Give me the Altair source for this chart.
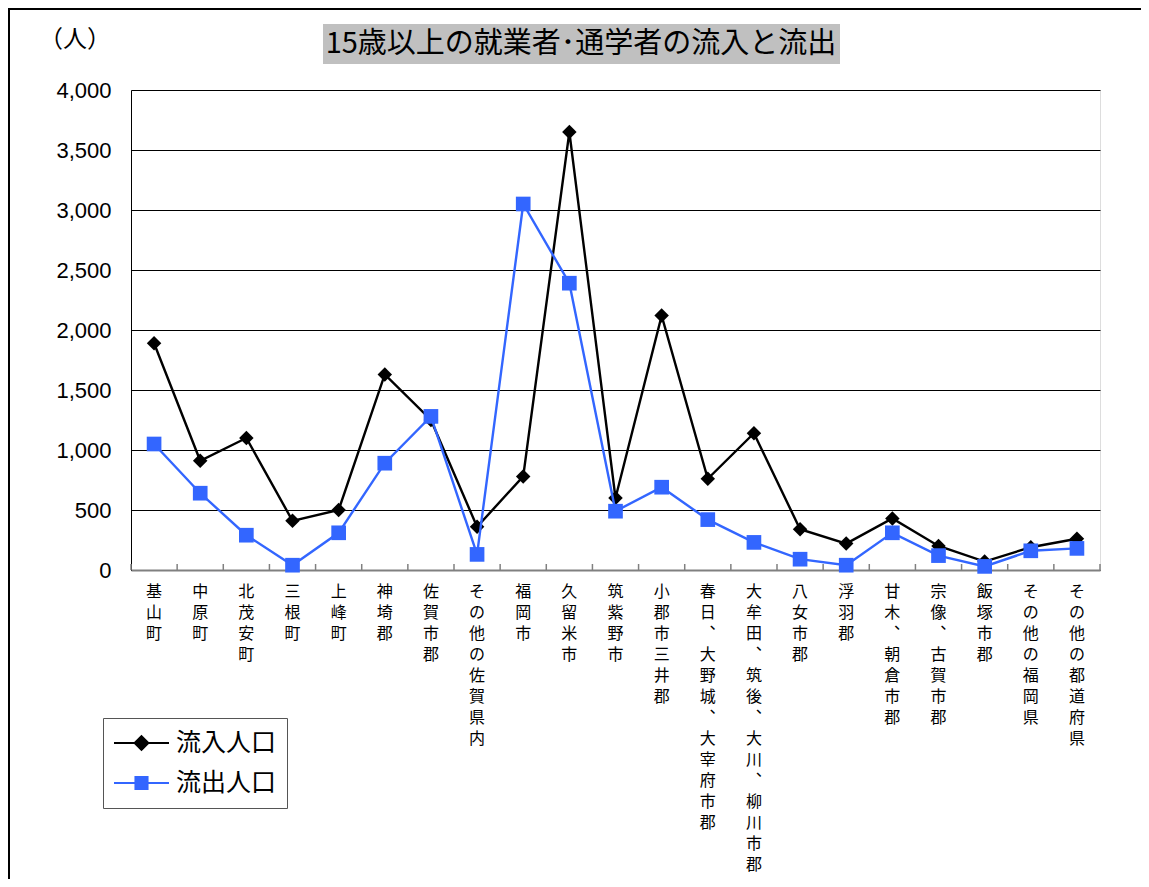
import altair as alt
import pandas as pd

# ---- data ----
categories = [
    "基山町", "中原町", "北茂安町", "三根町", "上峰町", "神埼郡", "佐賀市郡",
    "その他の佐賀県内", "福岡市", "久留米市", "筑紫野市", "小郡市三井郡",
    "春日、大野城、大宰府市郡", "大牟田、筑後、大川、柳川市郡", "八女市郡", "浮羽郡",
    "甘木、朝倉市郡", "宗像、古賀市郡", "飯塚市郡", "その他の福岡県", "その他の都道府県",
]
series = ["流入人口", "流出人口"]
inflow = [1890, 910, 1100, 410, 500, 1630, 1250, 360, 780, 3650, 600, 2120,
          760, 1140, 340, 220, 430, 200, 70, 190, 260]
outflow = [1050, 640, 290, 40, 310, 890, 1280, 130, 3050, 2390, 490, 690,
           420, 230, 90, 40, 310, 120, 30, 160, 180]
y_ticks = [0, 500, 1000, 1500, 2000, 2500, 3000, 3500, 4000]
title_text = "15歳以上の就業者･通学者の流入と流出"
unit_text = "（人）"

colors = ["#000000", "#3366FF"]

rows = []
for c, a, b in zip(categories, inflow, outflow):
    rows.append({"地域": c, "系列": series[0], "人数": a})
    rows.append({"地域": c, "系列": series[1], "人数": b})
df = pd.DataFrame(rows)
cat_df = pd.DataFrame({"地域": categories})

W, H = 969, 480
JP = "Noto Sans CJK JP"

xscale = alt.Scale(type="band", domain=categories, paddingInner=0, paddingOuter=0)
yscale = alt.Scale(domain=[0, 4000])
cscale = alt.Scale(domain=series, range=colors)

x_axis = alt.Axis(
    title=None, ticks=False, grid=False, labelAngle=0,
    labelExpr="split(replace(datum.label, regexp('、', 'g'), '︑'), '')",
    labelFont=JP, labelFontSize=16, labelLineHeight=21, labelColor="#000",
    labelBaseline="top", labelAlign="center", labelPadding=13,
    domainColor="#808080", domainWidth=2, labelOverlap=False,
)
y_axis = alt.Axis(
    title=None, values=y_ticks, format=",.0f", ticks=False,
    labelFont="Liberation Sans", labelFontSize=22, labelColor="#000",
    labelPadding=20, grid=True, gridColor="#000", gridWidth=1,
    domainColor="#000", domainWidth=1,
)


def xe(bp=0.5):
    return alt.X("地域:N", scale=xscale, sort=categories, bandPosition=bp, axis=x_axis)


def ye():
    return alt.Y("人数:Q", scale=yscale, axis=y_axis)


one = alt.Data(values=[{}])

border = alt.Chart(one).mark_rect(
    fillOpacity=0, stroke="#000", strokeWidth=2
).encode(x=alt.value(-122), y=alt.value(-81), x2=alt.value(1100), y2=alt.value(900))

title_box = alt.Chart(one).mark_rect(fill="#c0c0c0").encode(
    x=alt.value(192), x2=alt.value(709), y=alt.value(-66), y2=alt.value(-26)
)
title_lbl = alt.Chart(one).mark_text(
    text=title_text, font=JP, fontSize=29, color="#000", align="center", baseline="middle"
).encode(x=alt.value(450), y=alt.value(-46))
unit_lbl = alt.Chart(one).mark_text(
    text=unit_text, font=JP, fontSize=24, color="#000", align="center", baseline="middle"
).encode(x=alt.value(-56), y=alt.value(-50))

base = alt.Chart(df)

lines_in = base.transform_filter(alt.datum["系列"] == series[0]).mark_line(
    strokeWidth=2.4, color=colors[0]
).encode(x=xe(), y=ye())
pts_in = base.transform_filter(alt.datum["系列"] == series[0]).mark_point(
    shape="diamond", filled=True, size=210, color=colors[0], opacity=1
).encode(x=xe(), y=ye())
lines_out = base.transform_filter(alt.datum["系列"] == series[1]).mark_line(
    strokeWidth=2.4, color=colors[1]
).encode(x=xe(), y=ye())
pts_out = base.transform_filter(alt.datum["系列"] == series[1]).mark_point(
    shape="square", filled=True, size=215, color=colors[1], opacity=1
).encode(x=xe(), y=ye())

# category boundary ticks (inward, Excel style)
ticks_a = alt.Chart(cat_df).mark_rule(color="#808080", strokeWidth=1.5).encode(
    x=xe(0), y=alt.value(H - 6), y2=alt.value(H),
)
ticks_b = alt.Chart(cat_df).transform_filter(
    alt.datum["地域"] == categories[-1]
).mark_rule(color="#808080", strokeWidth=1.5).encode(
    x=xe(1), y=alt.value(H - 6), y2=alt.value(H),
)

# legend (line + marker symbols), driven by a hidden helper layer
path_in = "M-1,0L1,0M0,-0.25L0.25,0L0,0.25L-0.25,0Z"
path_out = "M-1,0L1,0M-0.22,-0.22L0.22,-0.22L0.22,0.22L-0.22,0.22Z"
legend_layer = base.mark_point(filled=True, strokeWidth=2, clip=True, opacity=1).encode(
    x=alt.value(0), y=alt.value(-5000),
    fill=alt.Fill("系列:N", scale=cscale, sort=series, legend=alt.Legend(
        title=None, orient="none", legendX=-28, legendY=628,
        strokeColor="#555", fillColor="#fff", padding=10,
        symbolSize=3025, symbolStrokeWidth=2, clipHeight=30, rowPadding=10,
        labelFont=JP, labelFontSize=25, labelColor="#000", labelOffset=6,
        symbolOpacity=1,
    )),
    stroke=alt.Stroke("系列:N", scale=cscale, sort=series),
    shape=alt.Shape("系列:N", scale=alt.Scale(domain=series, range=[path_in, path_out]), sort=series),
)

chart = alt.layer(
    border, title_box, title_lbl, unit_lbl,
    lines_in, ticks_a, ticks_b, pts_in, lines_out, pts_out, legend_layer,
).properties(
    width=W, height=H,
    autosize=alt.AutoSizeParams(type="none"),
    padding={"left": 123, "top": 82, "right": 41, "bottom": 309},
).configure_view(strokeOpacity=0, strokeWidth=0).configure(background="#ffffff")

chart.save("out.html", embed_options={"renderer": "svg", "actions": False})
